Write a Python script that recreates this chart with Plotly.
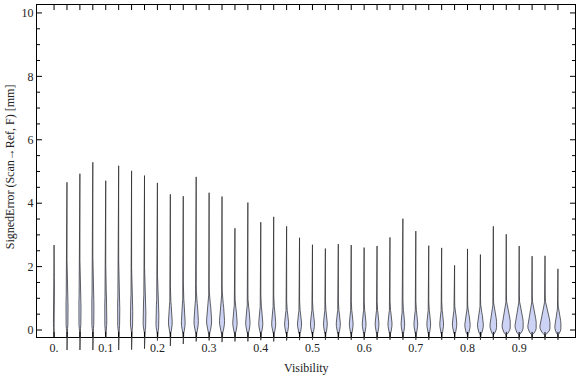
import plotly.graph_objects as go

# ---- data ----
positions = [0.0, 0.025, 0.05, 0.075, 0.1, 0.125, 0.15, 0.175, 0.2, 0.225,
             0.25, 0.275, 0.3, 0.325, 0.35, 0.375, 0.4, 0.425, 0.45, 0.475,
             0.5, 0.525, 0.55, 0.575, 0.6, 0.625, 0.65, 0.675, 0.7, 0.725,
             0.75, 0.775, 0.8, 0.825, 0.85, 0.875, 0.9, 0.925, 0.95, 0.975]

# maximum of each distribution
tops = [2.68, 4.66, 4.93, 5.29, 4.71, 5.18, 5.02, 4.87, 4.64, 4.28,
        4.22, 4.83, 4.33, 4.21, 3.21, 4.02, 3.40, 3.57, 3.27, 2.91,
        2.69, 2.57, 2.71, 2.68, 2.60, 2.65, 2.92, 3.51, 3.12, 2.66,
        2.59, 2.04, 2.56, 2.38, 3.27, 3.02, 2.65, 2.33, 2.34, 1.93]

# minimum of each distribution
bottoms = [-0.22, -0.73, -0.73, -0.76, -0.25, -0.69, -0.62, -0.59, -0.33, -0.50,
           -0.44, -0.36, -0.33, -0.38, -0.36, -0.36, -0.32, -0.36, -0.33, -0.32,
           -0.31, -0.31, -0.31, -0.31, -0.31, -0.31, -0.31, -0.31, -0.31, -0.31,
           -0.31, -0.31, -0.31, -0.31, -0.31, -0.31, -0.31, -0.31, -0.31, -0.31]

# location of the density peak
modes = [0.60, 0.50, 0.50, 0.50, 0.45, 0.45, 0.40, 0.35, 0.30, 0.28,
         0.26, 0.30, 0.32, 0.30, 0.25, 0.25, 0.23, 0.23, 0.22, 0.22,
         0.22, 0.22, 0.22, 0.22, 0.22, 0.22, 0.22, 0.22, 0.22, 0.22,
         0.22, 0.22, 0.18, 0.18, 0.17, 0.15, 0.15, 0.13, 0.12, 0.12]

# upper end of the bulge of each density
bulge_tops = [2.0, 1.8, 1.8, 1.9, 1.7, 1.8, 1.6, 1.6, 1.4, 1.1,
              1.2, 1.2, 1.2, 1.2, 0.95, 0.95, 0.9, 0.9, 0.75, 0.75,
              0.75, 0.75, 0.75, 0.75, 0.75, 0.75, 0.75, 0.75, 0.75, 0.75,
              0.75, 0.75, 0.75, 0.8, 0.85, 0.9, 0.9, 0.9, 0.9, 0.75]

# lower end of the bulge
bulge_bottoms = [-0.10, -0.10, -0.10, -0.10, -0.10, -0.10, -0.10, -0.10, -0.12, -0.12,
                 -0.12, -0.12, -0.12, -0.12, -0.12, -0.12, -0.12, -0.12, -0.14, -0.14,
                 -0.14, -0.14, -0.14, -0.14, -0.14, -0.14, -0.14, -0.14, -0.14, -0.14,
                 -0.14, -0.14, -0.15, -0.15, -0.15, -0.15, -0.15, -0.15, -0.15, -0.15]

# full width of each violin at its peak (x-axis units)
peak_widths = [0.0030, 0.0043, 0.0045, 0.0045, 0.0043, 0.0045, 0.0047, 0.0055, 0.0058, 0.0072,
               0.0072, 0.0084, 0.0097, 0.0097, 0.0084, 0.0084, 0.0078, 0.0078, 0.0078, 0.0078,
               0.0078, 0.0072, 0.0078, 0.0072, 0.0072, 0.0072, 0.0078, 0.0068, 0.0072, 0.0072,
               0.0072, 0.0084, 0.0103, 0.0113, 0.0130, 0.0161, 0.0161, 0.0165, 0.0200, 0.0120]

# shared violin outline profile (relative width vs. fraction of bulge extent)
up_frac = [0.0, 0.15, 0.3, 0.45, 0.6, 0.75, 0.9, 1.0, 1.3]
up_rel = [1.0, 0.96, 0.85, 0.67, 0.47, 0.29, 0.15, 0.09, 0.04]
down_frac = [0.0, 0.3, 0.55, 0.75, 0.9, 1.0]
down_rel = [1.0, 0.95, 0.8, 0.55, 0.3, 0.05]

x_tick_vals = [0.0, 0.1, 0.2, 0.3, 0.4, 0.5, 0.6, 0.7, 0.8, 0.9]
x_tick_text = ["0.", "0.1", "0.2", "0.3", "0.4", "0.5", "0.6", "0.7", "0.8", "0.9"]
y_tick_vals = [0, 2, 4, 6, 8, 10]
y_tick_text = ["0", "2", "4", "6", "8", "10"]
y_minor_vals = [0.0, 0.5, 1.0, 1.5, 2.0, 2.5, 3.0, 3.5, 4.0, 4.5, 5.0,
                5.5, 6.0, 6.5, 7.0, 7.5, 8.0, 8.5, 9.0, 9.5, 10.0]

FILL = "#ccd3f5"
EDGE = "rgba(40,40,40,0.72)"
FONT = "Liberation Serif, Times New Roman, Times, serif"

X_LO, X_HI = -0.033, 1.008
Y_LO, Y_HI = -0.22, 10.25
DOM_LO = 13 / 345  # fraction of the plot area lying below the frame
# frame tick lengths expressed in axis units (about 5 px / 3 px)
XT_LEN = 0.16
YT_MAJ = 0.0097
YT_MIN = 0.0058

fig = go.Figure()
fig.add_trace(go.Scatter(x=[None], y=[None], xaxis="x", yaxis="y",
                         showlegend=False, hoverinfo="skip"))

for p, t, b, m, ut, lb, w in zip(positions, tops, bottoms, modes,
                                  bulge_tops, bulge_bottoms, peak_widths):
    hw = w / 2.0
    ys, rs = [b], [0.0]
    for f, r in zip(reversed(down_frac), reversed(down_rel)):
        ys.append(m - f * (m - lb))
        rs.append(r)
    for f, r in zip(up_frac[1:], up_rel[1:]):
        ys.append(m + f * (ut - m))
        rs.append(r)
    ys.append(t)
    rs.append(0.0)
    xr = [p + hw * r for r in rs]
    xl = [p - hw * r for r in rs]
    xs = xr + xl[::-1]
    yy = ys + ys[::-1]
    fig.add_trace(go.Scatter(x=xs, y=yy, xaxis="x", yaxis="y2", mode="lines",
                             fill="toself", fillcolor=FILL,
                             line=dict(color=EDGE, width=1),
                             showlegend=False, hoverinfo="skip"))

# frame ticks (inside, on all four sides) as line shapes on the framed subplot
tick_shapes = []
for p in positions:
    tick_shapes.append(dict(type="line", xref="x", yref="y", x0=p, x1=p,
                            y0=Y_HI, y1=Y_HI - XT_LEN,
                            line=dict(color="black", width=1)))
    tick_shapes.append(dict(type="line", xref="x", yref="y", x0=p, x1=p,
                            y0=Y_LO, y1=Y_LO + XT_LEN,
                            line=dict(color="black", width=1)))
for v in y_minor_vals:
    L = YT_MAJ if v in y_tick_vals else YT_MIN
    tick_shapes.append(dict(type="line", xref="x", yref="y", x0=X_LO, x1=X_LO + L,
                            y0=v, y1=v, line=dict(color="black", width=1)))
    tick_shapes.append(dict(type="line", xref="x", yref="y", x0=X_HI, x1=X_HI - L,
                            y0=v, y1=v, line=dict(color="black", width=1)))

axis_common = dict(showline=True, linecolor="black", linewidth=1, mirror=True,
                   ticks="", showgrid=False, zeroline=False, automargin=False,
                   tickfont=dict(family=FONT, size=12, color="#222"))

fig.update_layout(
    template="none",
    width=576, height=377,
    margin=dict(l=37, r=1, t=5, b=27, autoexpand=False),
    paper_bgcolor="white", plot_bgcolor="rgba(0,0,0,0)",
    showlegend=False,
    font=dict(family=FONT, size=12, color="#222"),
    xaxis=dict(range=[X_LO, X_HI], anchor="y",
               tickmode="array", tickvals=x_tick_vals, ticktext=x_tick_text,
               **axis_common),
    yaxis=dict(range=[Y_LO, Y_HI], domain=[DOM_LO, 1], anchor="x",
               tickmode="array", tickvals=y_tick_vals, ticktext=y_tick_text,
               **axis_common),
    yaxis2=dict(range=[Y_LO - DOM_LO * (Y_HI - Y_LO) / (1 - DOM_LO), Y_HI],
                domain=[0, 1], anchor="x", visible=False, showgrid=False,
                zeroline=False, automargin=False),
    shapes=tick_shapes,
    annotations=[
        dict(text="Visibility", x=0.5, y=-0.052, xref="paper", yref="paper",
             showarrow=False, xanchor="center", yanchor="middle",
             font=dict(family=FONT, size=12, color="#222")),
        dict(text="SignedError (Scan\u2192Ref, F) [mm]", x=-0.05, y=0.53,
             xref="paper", yref="paper", textangle=-90, showarrow=False,
             xanchor="center", yanchor="middle",
             font=dict(family=FONT, size=12, color="#222")),
    ],
)

fig.write_html("out.html",
               config={"displayModeBar": False, "staticPlot": True},
               post_script="document.body.style.margin='0';document.body.style.padding='0';")
